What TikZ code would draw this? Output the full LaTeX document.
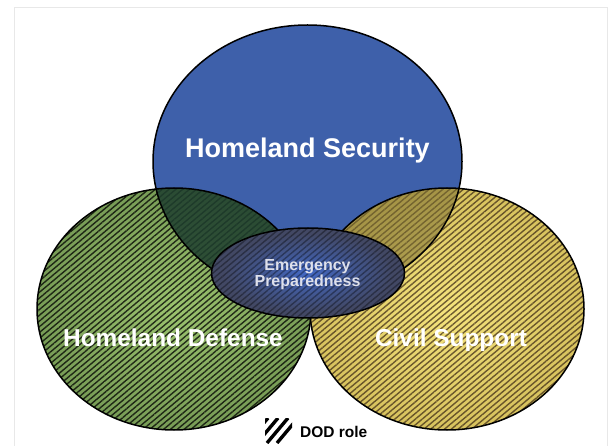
\documentclass[tikz,border=0pt]{standalone}
\usepackage{fontspec}
\setmainfont{Liberation Sans}
\usetikzlibrary{patterns.meta}

\definecolor{hsBlue}{RGB}{62,96,170}
\definecolor{hdInner}{RGB}{155,195,110}
\definecolor{hdOuter}{RGB}{85,118,62}
\definecolor{hdDark}{RGB}{30,62,46}
\definecolor{csInner}{RGB}{245,228,125}
\definecolor{csOuter}{RGB}{185,160,62}
\definecolor{csDark}{RGB}{125,112,52}
\definecolor{epInner}{RGB}{66,104,196}
\definecolor{epOuter}{RGB}{66,72,100}
\definecolor{epText}{RGB}{222,224,235}
\definecolor{frameGray}{RGB}{232,232,232}

\pgfdeclareradialshading{hdShade}{\pgfpoint{0bp}{0bp}}{color(0bp)=(hdInner); color(50bp)=(hdOuter)}
\pgfdeclareradialshading{csShade}{\pgfpoint{0bp}{0bp}}{color(0bp)=(csInner); color(50bp)=(csOuter)}
\pgfdeclareradialshading{epShade}{\pgfpoint{0bp}{0bp}}{color(0bp)=(epInner); color(22bp)=(epOuter); color(50bp)=(epOuter)}

\tikzstyle{outline} = [draw=black, line width=1.5pt]
\tikzstyle{hatch} = [pattern={Lines[angle=40, distance=4.4pt, line width=1.4pt]}, pattern color=black]
\tikzstyle{venntext} = [text=white, anchor=base, inner sep=0pt, font=\bfseries\fontsize{24.4}{24.4}\selectfont]
\tikzstyle{bigger} = [font=\bfseries\fontsize{27}{27}\selectfont]
\tikzstyle{stroke} = [line width=3.4pt, line cap=butt]

\begin{document}
\begin{tikzpicture}[x=1pt, y=-1pt]
  \useasboundingbox (0,0) rectangle (610,446);
  \draw[frameGray, line width=0.8pt] (14,7) rectangle (607,470);

  \coordinate (hs) at (307.5,161.5);
  \coordinate (hd) at (174,309);
  \coordinate (cs) at (447,309);
  \coordinate (ep) at (308,273);

  \fill[hsBlue] (hs) ellipse [x radius=154.5, y radius=136.5];

  \shade[shading=hdShade] (hd) ellipse [x radius=137, y radius=121];
  \fill[hatch, opacity=0.75] (hd) ellipse [x radius=137, y radius=121];
  \begin{scope}
    \clip (hd) ellipse [x radius=137, y radius=121];
    \fill[hdDark, opacity=0.85] (hs) ellipse [x radius=154.5, y radius=136.5];
  \end{scope}

  \shade[shading=csShade] (cs) ellipse [x radius=137, y radius=121];
  \fill[hatch, pattern color=black!70!brown, opacity=0.7] (cs) ellipse [x radius=137, y radius=121];
  \begin{scope}
    \clip (cs) ellipse [x radius=137, y radius=121];
    \fill[csDark, opacity=0.55] (hs) ellipse [x radius=154.5, y radius=136.5];
  \end{scope}

  \draw[outline] (hs) ellipse [x radius=154.5, y radius=136.5];
  \draw[outline] (hd) ellipse [x radius=137, y radius=121];
  \draw[outline] (cs) ellipse [x radius=137, y radius=121];

  \shade[shading=epShade] (ep) ellipse [x radius=96.5, y radius=45];
  \fill[hatch, opacity=0.35] (ep) ellipse [x radius=96.5, y radius=45];
  \draw[outline] (ep) ellipse [x radius=96.5, y radius=45];

  \node[venntext, bigger] (hsText) at (307.5,158) {Homeland Security};
  \node[venntext] (hdText) at (173,346) {Homeland Defense};
  \node[venntext] (csText) at (451,346) {Civil Support};
  \node[text=epText, align=center, inner sep=0pt, font=\bfseries\fontsize{16}{16}\selectfont] (epLabel) at (307.5,275) {Emergency\\Preparedness};

  \begin{scope}
    \clip (265,418) rectangle (292,443);
    \foreach \x in {247,257,267,277}
      \draw[stroke] (\x,443) -- ++(21,-25);
  \end{scope}
  \node[anchor=base west, inner sep=0pt, font=\bfseries\fontsize{15.5}{15.5}\selectfont] (dodText) at (300,437) {DOD role};
\end{tikzpicture}
\end{document}
